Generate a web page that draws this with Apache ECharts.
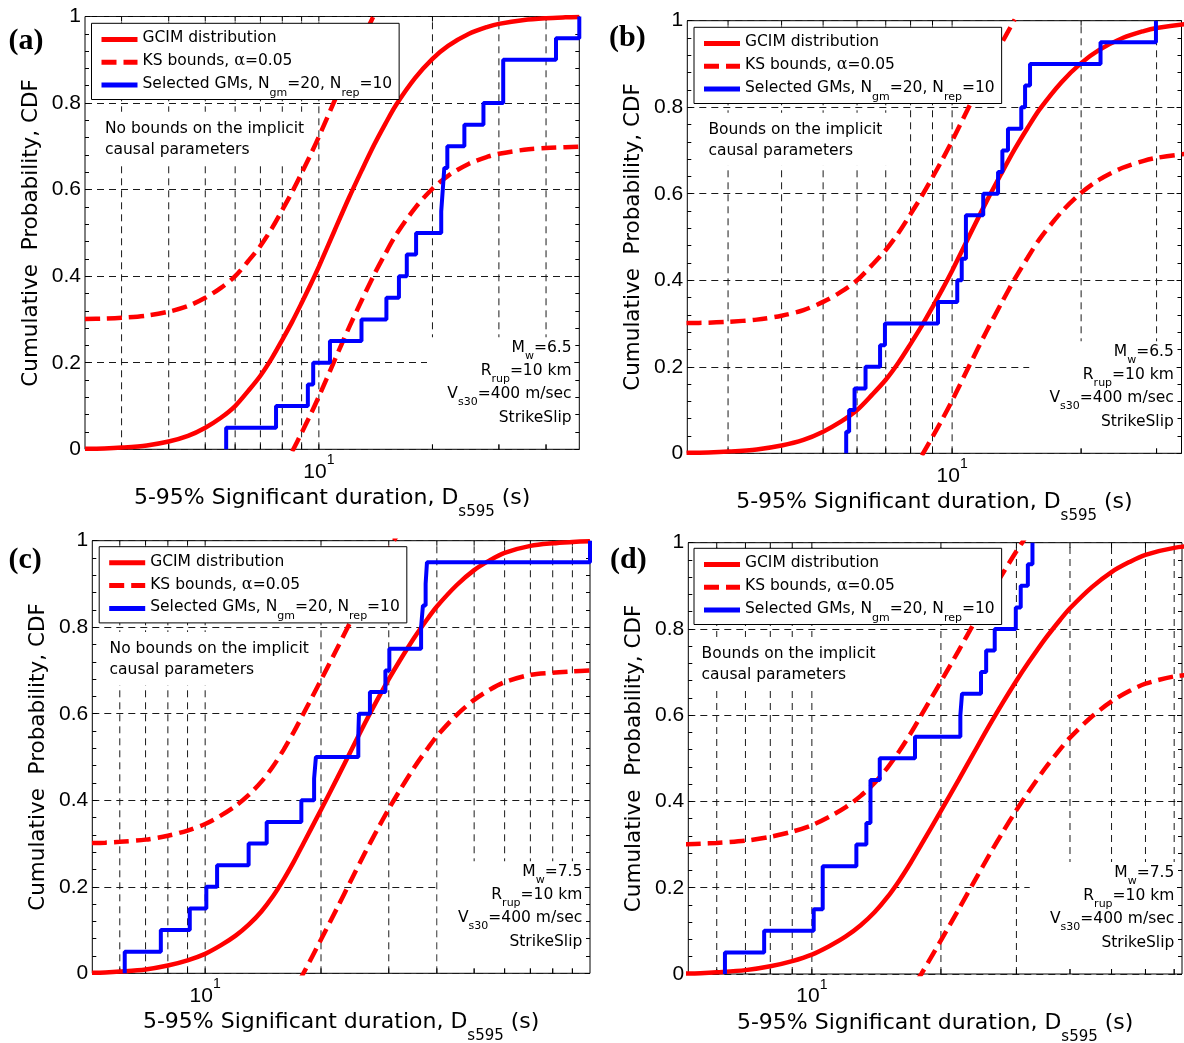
<!DOCTYPE html>
<html><head><meta charset="utf-8">
<script src="https://cdn.jsdelivr.net/npm/echarts@6/dist/echarts.min.js"></script>
<style>html,body{margin:0;padding:0;background:#fff}#c{width:1184px;height:1043px}</style>
</head><body><div id="c"></div><script>
// ---------------- data ----------------
// GCIM target distribution, Mw = 6.5 (panels a, b)
const gcim65X = [2.4, 2.7, 3.0, 3.5, 4.0, 4.5, 5.0, 5.5, 6.0, 6.5, 7.0, 7.5, 8.0, 8.5, 9.0, 9.5, 10, 11, 12, 13, 14, 15, 16, 18, 20, 22, 25, 28, 30, 35, 40, 45, 49];
const gcim65Y = [0.001, 0.002, 0.004, 0.009, 0.018, 0.031, 0.050, 0.073, 0.100, 0.135, 0.170, 0.210, 0.253, 0.295, 0.338, 0.380, 0.422, 0.505, 0.580, 0.645, 0.703, 0.752, 0.795, 0.858, 0.902, 0.932, 0.960, 0.976, 0.983, 0.992, 0.996, 0.998, 0.999];
const ksUp65X = [2.4, 2.7, 3.0, 3.5, 4.0, 4.5, 5.0, 5.5, 6.0, 6.5, 7.0, 7.5, 8.0, 8.5, 9.0, 9.5, 10, 11, 12, 13, 14];
const ksUp65Y = [0.301, 0.302, 0.304, 0.309, 0.318, 0.331, 0.350, 0.373, 0.400, 0.435, 0.470, 0.510, 0.553, 0.595, 0.638, 0.680, 0.722, 0.805, 0.880, 0.945, 1.003];
const ksLo65X = [8.5, 9.0, 9.5, 10, 11, 12, 13, 14, 15, 16, 18, 20, 22, 25, 28, 30, 35, 40, 45, 49];
const ksLo65Y = [-0.005, 0.038, 0.080, 0.122, 0.205, 0.280, 0.345, 0.403, 0.452, 0.495, 0.558, 0.602, 0.632, 0.660, 0.676, 0.683, 0.692, 0.696, 0.698, 0.699];
// GCIM target distribution, Mw = 7.5 (panels c, d)
const gcim75X = [5.08, 5.5, 6, 7, 8, 9, 10, 11, 12, 13, 14, 15, 16, 17, 18, 20, 22, 24, 26, 28, 30, 32, 35, 38, 40, 45, 50, 55, 60, 70, 80, 90, 100];
const gcim75Y = [0.001, 0.002, 0.004, 0.009, 0.018, 0.030, 0.045, 0.065, 0.087, 0.113, 0.143, 0.178, 0.217, 0.258, 0.300, 0.378, 0.450, 0.517, 0.578, 0.632, 0.680, 0.722, 0.777, 0.822, 0.848, 0.897, 0.932, 0.955, 0.972, 0.988, 0.994, 0.997, 0.999];
const ksUp75X = [5.08, 5.5, 6, 7, 8, 9, 10, 11, 12, 13, 14, 15, 16, 17, 18, 20, 22, 24, 26, 28, 30, 32];
const ksUp75Y = [0.301, 0.302, 0.304, 0.309, 0.318, 0.330, 0.345, 0.365, 0.387, 0.413, 0.443, 0.478, 0.517, 0.558, 0.600, 0.678, 0.750, 0.817, 0.878, 0.932, 0.980, 1.022];
const ksLo75X = [17.5, 18, 20, 22, 24, 26, 28, 30, 32, 35, 38, 40, 45, 50, 55, 60, 70, 80, 90, 100];
const ksLo75Y = [-0.018, 0.000, 0.078, 0.150, 0.217, 0.278, 0.332, 0.380, 0.422, 0.477, 0.522, 0.548, 0.597, 0.632, 0.656, 0.673, 0.690, 0.695, 0.698, 0.700];
// Selected ground motions (sorted durations, s) and empirical CDF levels
const ecdfLevels = [0, 0.05, 0.10, 0.15, 0.20, 0.25, 0.30, 0.35, 0.40, 0.45, 0.50, 0.55, 0.60, 0.65, 0.70, 0.75, 0.80, 0.85, 0.90, 0.95, 1.00];
const selA = [5.68, 7.7, 9.35, 9.66, 10.7, 12.97, 15.1, 16.3, 17.1, 18.1, 21.1, 21.3, 21.5, 21.9, 24.3, 27.3, 30.8, 30.8, 42.5, 49];
const selB = [5.66, 5.75, 5.92, 6.28, 6.79, 6.97, 9.27, 10.28, 10.53, 10.77, 10.77, 11.82, 12.8, 13.1, 13.5, 14.5, 14.8, 15.2, 22.2, 29.9];
const selC = [6.18, 7.67, 9.12, 10.07, 10.74, 12.97, 14.45, 17.78, 19.19, 19.4, 25.0, 25.1, 26.8, 29.4, 30.1, 36.4, 36.8, 37.4, 37.7, 100];
const selD = [6.27, 7.74, 10.1, 10.6, 10.6, 12.7, 13.4, 13.7, 13.7, 14.4, 17.4, 22.2, 22.4, 24.8, 25.5, 26.7, 29.9, 30.7, 31.9, 32.7];
// axis limits and tick values
const xMin = [2.4, 2.41, 5.09, 5.15];
const xMax = [49, 34.3, 100, 73];
const logGridValues = [2, 3, 4, 5, 6, 7, 8, 9, 10, 20, 30, 40, 50, 60, 70, 80, 90, 100];
// texts
const panelLabels = ['(a)', '(b)', '(c)', '(d)'];
const boundNotes = ['No bounds on the implicit\ncausal parameters', 'Bounds on the implicit\ncausal parameters', 'No bounds on the implicit\ncausal parameters', 'Bounds on the implicit\ncausal parameters'];
const magnitudes = ['6.5', '6.5', '7.5', '7.5'];
const nameGCIM = 'GCIM distribution';
const nameKS = 'KS bounds, \u03b1=0.05';
const nameSel = 'Selected GMs, Ngm=20, Nrep=10';

// ---------------- layout (pixels) ----------------
const L = [
  {l: 85, t: 16.5, w: 494.3, h: 432.8, legL: 91.5, legT: 23.3, noteX: 105, noteY: 129, labX: 8.5, labY: 40.8},
  {l: 687.3, t: 20.7, w: 494.2, h: 432.6, legL: 694, legT: 27.3, noteX: 708.4, noteY: 130, labX: 609, labY: 38.3},
  {l: 92.3, t: 540.7, w: 497.7, h: 432.6, legL: 99.2, legT: 546.7, noteX: 109.6, noteY: 649.3, labX: 8.5, labY: 560.5},
  {l: 688.3, t: 542.7, w: 493.7, h: 431.3, legL: 694, legT: 548.3, noteX: 701.6, noteY: 654.3, labX: 610, labY: 560.5}
];

const SANS = 'DejaVu Sans';
const richSmall = {
  n: {fontFamily: SANS, fontSize: 15.5, lineHeight: 18, verticalAlign: 'top', color: '#000'},
  g: {fontFamily: 'DejaVu Serif', fontSize: 16, lineHeight: 18, verticalAlign: 'top', color: '#000'},
  s: {fontFamily: SANS, fontSize: 11, lineHeight: 11, padding: [11.5, 0, 0, 0], verticalAlign: 'top', color: '#000'}
};
const richNote = {
  n: {fontFamily: SANS, fontSize: 15.5, lineHeight: 18, verticalAlign: 'top', color: '#000'},
  s: {fontFamily: SANS, fontSize: 11, lineHeight: 11, padding: [10.5, 0, 0, 0], verticalAlign: 'top', color: '#000'}
};
const legendRich = {};
legendRich[nameGCIM] = '{n|GCIM distribution}';
legendRich[nameKS] = '{n|KS bounds, }{g|\u03b1}{n|=0.05}';
legendRich[nameSel] = '{n|Selected GMs, N}{s|gm}{n|=20, N}{s|rep}{n|=10}';

function pairs(xs, ys) { return xs.map((x, i) => [x, ys[i]]); }
function ecdf(durs) {
  const pts = [[durs[0], ecdfLevels[0]]];
  durs.forEach((d, i) => pts.push([d, ecdfLevels[i + 1]]));
  return pts;
}

function renderLogGrid(params, api) {
  const v = api.value(0);
  const b = api.coord([v, 0]);
  const t = api.coord([v, 1]);
  return {
    type: 'group',
    children: [
      {type: 'line', shape: {x1: b[0], y1: b[1], x2: t[0], y2: t[1]}, style: {stroke: '#1a1a1a', lineWidth: 1, lineDash: [7, 5]}},
      {type: 'line', shape: {x1: b[0], y1: b[1], x2: b[0], y2: b[1] - 5}, style: {stroke: '#000', lineWidth: 1}},
      {type: 'line', shape: {x1: t[0], y1: t[1], x2: t[0], y2: t[1] + 5}, style: {stroke: '#000', lineWidth: 1}}
    ]
  };
}

const grids = [], xAxes = [], yAxes = [], series = [], legends = [], graphics = [];
const sels = [selA, selB, selC, selD];

L.forEach((p, k) => {
  grids.push({left: p.l, top: p.t, width: p.w, height: p.h, show: true, borderColor: '#000', borderWidth: 1,
    backgroundColor: 'transparent', containLabel: false, outerBoundsMode: 'none'});
  xAxes.push({
    type: 'log', logBase: 10, gridIndex: k, min: xMin[k], max: xMax[k],
    axisLine: {show: false}, axisTick: {show: false}, splitLine: {show: false},
    minorTick: {show: false}, minorSplitLine: {show: false},
    axisLabel: {
      interval: 0, margin: 4, showMinLabel: true, showMaxLabel: true, hideOverlap: false,
      formatter: v => (Math.abs(v - 10) < 1e-3 ? '{b|10}{p|1}' : ''),
      rich: {
        b: {fontFamily: 'Liberation Sans', fontSize: 21, lineHeight: 24, padding: [8, 0, 0, 0], verticalAlign: 'top', color: '#000'},
        p: {fontFamily: 'Liberation Sans', fontSize: 14, lineHeight: 14, verticalAlign: 'top', color: '#000'}
      }
    },
    name: '{t|5-95% Significant duration, D}{s|s595}{t| (s)}',
    nameLocation: 'middle', nameGap: 38, nameMoveOverlap: false,
    nameTextStyle: {
      rich: {
        t: {fontFamily: SANS, fontSize: 22, lineHeight: 26, verticalAlign: 'top', color: '#000'},
        s: {fontFamily: SANS, fontSize: 15, lineHeight: 15, padding: [17.5, 0, 0, 0], verticalAlign: 'top', color: '#000'}
      }
    }
  });
  const yBase = {
    type: 'value', gridIndex: k, min: 0, max: 1, interval: 0.2,
    axisLine: {show: false},
    axisTick: {show: true, inside: true, length: 5, lineStyle: {color: '#000', width: 1}},
    minorTick: {show: true, inside: true, splitNumber: 5, length: 4, lineStyle: {color: '#000', width: 1}}
  };
  yAxes.push(Object.assign({}, yBase, {
    position: 'left',
    axisLabel: {margin: 4, fontFamily: 'Liberation Sans', fontSize: 21, color: '#000', showMinLabel: true, showMaxLabel: true},
    splitLine: {show: true, lineStyle: {color: '#1a1a1a', width: 1, type: [7, 5]}},
    name: 'Cumulative  Probability, CDF', nameLocation: 'middle', nameGap: 43, nameMoveOverlap: false,
    nameTextStyle: {fontFamily: SANS, fontSize: 21.5, color: '#000'}
  }));
  yAxes.push(Object.assign({}, yBase, {
    position: 'right', axisLabel: {show: false}, splitLine: {show: false}
  }));

  const yi = 2 * k;
  const big = k < 2;
  series.push({
    type: 'custom', xAxisIndex: k, yAxisIndex: yi, z: 1, silent: true,
    renderItem: renderLogGrid, encode: {x: 0, y: 1},
    data: logGridValues.filter(v => v > xMin[k] * 1.001 && v < xMax[k] * 0.999).map(v => [v, 0])
  });
  series.push({
    type: 'line', name: nameGCIM, xAxisIndex: k, yAxisIndex: yi, z: 10, symbol: 'none', showSymbol: false,
    smooth: 0.3, clip: true, silent: true,
    lineStyle: {color: '#ff0000', width: 4.5}, itemStyle: {color: '#ff0000'},
    data: big ? pairs(gcim65X, gcim65Y) : pairs(gcim75X, gcim75Y)
  });
  series.push({
    type: 'line', name: nameKS, xAxisIndex: k, yAxisIndex: yi, z: 10, symbol: 'none', showSymbol: false,
    smooth: 0.3, clip: true, silent: true,
    lineStyle: {color: '#ff0000', width: 4.5, type: [15, 7]}, itemStyle: {color: '#ff0000'},
    data: big ? pairs(ksUp65X, ksUp65Y) : pairs(ksUp75X, ksUp75Y)
  });
  series.push({
    type: 'line', name: nameKS, xAxisIndex: k, yAxisIndex: yi, z: 10, symbol: 'none', showSymbol: false,
    smooth: 0.3, clip: true, silent: true,
    lineStyle: {color: '#ff0000', width: 4.5, type: [15, 7]}, itemStyle: {color: '#ff0000'},
    data: big ? pairs(ksLo65X, ksLo65Y) : pairs(ksLo75X, ksLo75Y)
  });
  series.push({
    type: 'line', name: nameSel, xAxisIndex: k, yAxisIndex: yi, z: 11, symbol: 'none', showSymbol: false,
    step: 'end', clip: false, silent: true,
    lineStyle: {color: '#0000ff', width: 4}, itemStyle: {color: '#0000ff'},
    data: ecdf(sels[k])
  });

  legends.push({
    show: true, orient: 'vertical', left: p.legL, top: p.legT,
    itemWidth: 36, itemHeight: 14, itemGap: 6.8, padding: [7.1, 7, 1, 7.5],
    backgroundColor: '#fff', borderColor: '#000', borderWidth: 1, borderRadius: 0,
    selectedMode: false, z: 20,
    data: [nameGCIM, nameKS, nameSel],
    formatter: name => legendRich[name],
    textStyle: {color: '#000', fontFamily: SANS, fontSize: 15.5, rich: richSmall},
    lineStyle: {width: 5}, itemStyle: {opacity: 0}
  });

  // panel label
  graphics.push({type: 'text', x: p.labX, y: p.labY, z: 30,
    style: {text: panelLabels[k], fontFamily: 'Liberation Serif', fontWeight: 'bold', fontSize: 30, fill: '#000', align: 'left', verticalAlign: 'middle'}});
  // note in upper-left (white background hides grid)
  graphics.push({type: 'text', x: p.noteX - 7, y: p.noteY - 10.25 - 7, z: 5,
    style: {text: boundNotes[k], fontFamily: SANS, fontSize: 15.5, lineHeight: 20.5, fill: '#000',
      align: 'left', verticalAlign: 'top', backgroundColor: '#fff', padding: [7, 8, 5, 7]}});
  // scenario block in lower-right
  const right = p.l + p.w - 7.7;
  const bottom = p.t + p.h;
  graphics.push({type: 'rect', z: 5, shape: {x: p.l + p.w - 152.3, y: bottom - 112, width: 147, height: 107},
    style: {fill: '#fff'}});
  const lines = [
    '{n|M}{s|w}{n|=' + magnitudes[k] + '}',
    '{n|R}{s|rup}{n|=10 km}',
    '{n|V}{s|s30}{n|=400 m/sec}',
    '{n|StrikeSlip}'
  ];
  const offs = [102.5, 79.5, 56.5, 32.5];
  lines.forEach((tx, i) => {
    graphics.push({type: 'text', x: right, y: bottom - offs[i] - 9 + 2.5, z: 6,
      style: {text: tx, rich: richNote, align: 'right', verticalAlign: 'top', fill: '#000'}});
  });
});

const chart = echarts.init(document.getElementById('c'), null, {renderer: 'canvas'});
chart.setOption({
  animation: false,
  backgroundColor: '#fff',
  grid: grids, xAxis: xAxes, yAxis: yAxes, series: series, legend: legends,
  graphic: {elements: graphics}
});
</script></body></html>
